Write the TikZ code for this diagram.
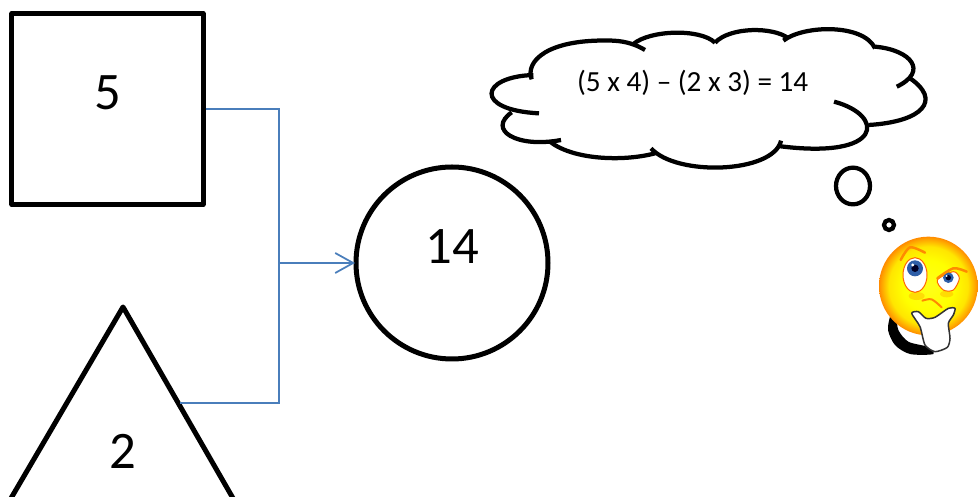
\documentclass[tikz,border=0pt]{standalone}
\usepackage{fontspec}
\setmainfont{Carlito}
\usetikzlibrary{arrows.meta}
\definecolor{linkblue}{HTML}{4A7EBB}
\definecolor{faceedge}{HTML}{FF8A00}
\definecolor{irisblue}{HTML}{2F5FA8}
\pgfdeclareradialshading{faceshade}{\pgfpoint{0bp}{0bp}}{color(0bp)=(yellow!90!white); color(13bp)=(yellow); color(20bp)=(yellow!80!orange); color(24bp)=(orange!75!yellow); color(25bp)=(faceedge); color(50bp)=(faceedge)}
\tikzset{
  shapeline/.style={draw,line width=0.1cm,line join=round},
  bigtext/.style={font=\fontsize{30}{32}\selectfont},
  cloudline/.style={line width=0.085cm},
  link/.style={linkblue,line width=0.035cm},
}
\begin{document}
\begin{tikzpicture}
\useasboundingbox (0,0) rectangle (19.56,-9.94);
\node[shapeline,minimum width=3.82cm,minimum height=3.82cm] (SQ) at (2.15,-2.18) {};
\node[bigtext] (SQT) at (2.15,-1.86) {5};
\node[shapeline,circle,minimum width=3.84cm] (CI) at (9.04,-5.26) {};
\node[bigtext] (CIT) at (9.04,-4.94) {14};
% triangle runs off the page
\coordinate (TA) at (2.46,-6.14);
\coordinate (TB) at (0.2,-10);
\coordinate (TC) at (4.68,-10);
\coordinate (TM) at (3.6,-8.06);
\draw[line width=0.1cm,line join=round] (TA) -- (TB) -- (TC) -- cycle;
\node[bigtext] (TRT) at (2.46,-9.02) {2};
\coordinate (JN) at (5.58,-5.26);
\draw[link] (SQ.east) -| (JN);
\draw[link] (TM) -| (JN);
\draw[link,shorten >=-0.03cm,-{Straight Barb[length=0.36cm,width=0.4cm]}] (JN) -- (CI.west);
% cloud
\begin{scope}[shift={(9.6,-0.4)},x=0.006667cm,y=-0.006667cm]
\draw[cloudline] (155,178) .. controls (135,125) and (200,55) .. (400,62) .. controls (440,64) and (470,75) .. (495,90);
\draw[cloudline] (460,72) .. controls (510,30) and (660,25) .. (705,68);
\draw[cloudline] (705,68) .. controls (750,20) and (880,20) .. (925,55);
\draw[cloudline] (910,62) .. controls (970,15) and (1150,10) .. (1185,85);
\draw[cloudline] (1185,80) .. controls (1295,90) and (1345,155) .. (1250,200);
\draw[cloudline] (1290,175) .. controls (1385,240) and (1330,305) .. (1165,315);
\draw[cloudline] (1062,245) .. controls (1215,285) and (1215,420) .. (895,378);
\draw[cloudline] (903,362) .. controls (880,460) and (590,470) .. (513,385);
\draw[cloudline] (525,400) .. controls (430,425) and (280,420) .. (210,365);
\draw[cloudline] (243,360) .. controls (110,385) and (20,330) .. (95,277);
\draw[cloudline] (177,280) .. controls (-20,270) and (0,170) .. (160,165);
\node[font=\fontsize{16.6}{18}\selectfont] (EQ) at (638,190) {(5 x 4) -- (2 x 3) = 14};
\end{scope}
\node[draw,circle,line width=0.085cm,minimum width=0.68cm,inner sep=0pt,yscale=1.08] (BU) at (17.06,-3.72) {};
\node[draw,circle,line width=0.085cm,minimum width=0.2cm,inner sep=0pt] (BV) at (17.78,-4.5) {};
% face
\begin{scope}[shift={(17.2,-4.2)},x=0.006667cm,y=-0.006667cm]
\fill[black] plot[smooth] coordinates {(90,320) (84,360) (105,405) (150,432) (220,432) (200,410) (145,395) (115,360) (110,320)};
\shade[shading=faceshade] (205,228) circle (148);
\fill[orange!45!yellow,opacity=.6] (170,258) ellipse (24 and 12);
\fill[orange!45!yellow,opacity=.6] (260,252) ellipse (20 and 10);
\draw[fill=white,draw=orange!80!red,line width=0.02cm] (165,195) ellipse (36 and 52);
\draw[fill=white,draw=orange!80!red,line width=0.02cm] plot[smooth cycle] coordinates {(232,210) (280,185) (298,205) (280,240) (250,240)};
\fill[irisblue] (165,175) circle (24);
\fill[black!85!blue] (165,175) circle (11);
\fill[white] (158,165) circle (5);
\fill[irisblue] (265,203) circle (16);
\fill[black!85!blue] (265,203) circle (8);
\fill[white] (260,198) circle (3);
\draw[faceedge,line width=0.05cm,line cap=round] plot[smooth] coordinates {(122,150) (150,112) (195,128)};
\draw[faceedge,line width=0.05cm,line cap=round] plot[smooth] coordinates {(232,205) (280,175) (320,185)};
\draw[faceedge,line width=0.04cm,line cap=round] plot[smooth] coordinates {(187,272) (215,268) (245,292)};
\draw[fill=white,draw=black!80,line width=0.03cm,line join=round] plot[smooth cycle,tension=.4] coordinates {(155,310) (175,305) (198,325) (225,322) (265,295) (285,295) (280,315) (265,340) (270,385) (262,412) (225,425) (195,405) (180,350)};
\end{scope}
\end{tikzpicture}
\end{document}
